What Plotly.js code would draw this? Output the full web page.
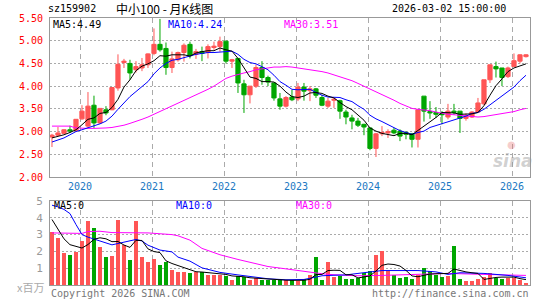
<!DOCTYPE html>
<html><head><meta charset="utf-8">
<script src="https://cdn.plot.ly/plotly-3.0.1.min.js"></script>
<style>html,body{margin:0;padding:0;background:#fff}#chart{width:545px;height:300px}</style>
</head><body><div id="chart"></div>
<script>
const months = ["2019-08","2019-09","2019-10","2019-11","2019-12",
"2020-01","2020-02","2020-03","2020-04","2020-05","2020-06","2020-07","2020-08","2020-09","2020-10","2020-11","2020-12",
"2021-01","2021-02","2021-03","2021-04","2021-05","2021-06","2021-07","2021-08","2021-09","2021-10","2021-11","2021-12",
"2022-01","2022-02","2022-03","2022-04","2022-05","2022-06","2022-07","2022-08","2022-09","2022-10","2022-11","2022-12",
"2023-01","2023-02","2023-03","2023-04","2023-05","2023-06","2023-07","2023-08","2023-09","2023-10","2023-11","2023-12",
"2024-01","2024-02","2024-03","2024-04","2024-05","2024-06","2024-07","2024-08","2024-09","2024-10","2024-11","2024-12",
"2025-01","2025-02","2025-03","2025-04","2025-05","2025-06","2025-07","2025-08","2025-09","2025-10","2025-11","2025-12",
"2026-01","2026-02","2026-03"];

const openP = [2.88,2.92,2.96,3.04,3.02,3.28,3.12,3.58,3.19,3.48,3.48,3.96,4.52,4.50,4.36,4.40,4.47,
4.72,4.92,4.83,4.41,4.58,4.74,4.92,4.70,4.76,4.74,4.85,4.87,
4.99,4.55,4.61,4.05,3.81,4.00,4.41,4.19,4.07,3.72,3.56,3.76,
3.72,3.98,3.90,3.94,3.75,3.56,3.69,3.68,3.43,3.30,3.23,3.16,
3.08,2.63,2.95,2.97,3.03,3.01,2.98,2.95,2.83,3.78,3.44,3.42,
3.40,3.32,3.45,3.45,3.29,3.32,3.43,3.61,4.14,4.43,4.40,4.21,
4.43,4.55,4.65];
const highP = [2.95,3.10,3.05,3.13,3.27,3.58,3.87,3.79,3.51,3.56,3.98,4.70,4.60,4.58,4.55,4.62,4.72,
5.27,5.48,4.96,4.76,4.76,4.94,4.98,4.82,4.87,4.92,4.98,5.09,
5.00,4.60,4.61,4.14,4.00,4.47,4.55,4.23,4.07,3.85,3.78,3.92,
4.07,4.07,4.00,3.96,3.81,3.74,3.74,3.70,3.48,3.37,3.30,3.17,
3.08,2.97,3.12,3.05,3.08,3.05,3.01,2.97,3.48,3.78,3.67,3.54,
3.45,3.61,3.61,3.45,3.40,3.45,3.74,4.14,4.47,4.54,4.40,4.43,
4.72,4.70,4.70];
const lowP = [2.66,2.90,2.95,2.97,3.00,3.26,3.08,3.08,3.17,3.36,3.47,3.90,4.40,4.14,4.30,4.33,4.40,
4.68,4.76,4.25,4.29,4.54,4.54,4.61,4.60,4.55,4.61,4.80,4.76,
4.50,4.40,3.85,3.41,3.62,3.96,4.03,4.00,3.68,3.48,3.53,3.67,
3.67,3.68,3.67,3.74,3.56,3.52,3.52,3.28,3.16,3.05,3.10,2.92,
2.59,2.44,2.90,2.86,2.94,2.79,2.83,2.65,2.65,3.22,3.28,3.30,
3.16,3.27,3.37,2.97,3.24,3.30,3.41,3.58,4.07,4.19,4.00,4.18,
4.43,4.50,4.63];
const closeP = [2.92,2.97,3.04,3.01,3.27,3.45,3.56,3.19,3.51,3.41,3.97,4.48,4.55,4.29,4.43,4.47,4.71,
4.92,4.80,4.41,4.60,4.74,4.90,4.67,4.76,4.72,4.87,4.88,4.98,
4.55,4.58,4.07,3.81,4.00,4.41,4.19,4.09,3.74,3.56,3.75,3.70,
3.98,3.89,3.94,3.80,3.58,3.67,3.71,3.45,3.32,3.23,3.14,3.10,
2.63,2.95,2.98,3.00,2.97,2.90,2.94,2.83,3.48,3.45,3.41,3.38,
3.37,3.45,3.42,3.29,3.35,3.43,3.63,4.14,4.47,4.38,4.19,4.40,
4.56,4.69,4.69];

const ma5 = [2.86,2.89,2.93,2.98,3.04,3.15,3.27,3.30,3.40,3.42,3.53,3.71,3.98,4.14,4.34,4.44,4.49,
4.56,4.67,4.66,4.69,4.69,4.69,4.66,4.73,4.76,4.78,4.78,4.84,
4.80,4.77,4.61,4.40,4.20,4.17,4.10,4.10,4.09,4.00,3.87,3.77,
3.75,3.78,3.85,3.86,3.84,3.78,3.74,3.64,3.55,3.48,3.37,3.25,
3.08,3.01,2.96,2.93,2.91,2.96,2.96,2.93,3.02,3.12,3.22,3.31,
3.42,3.41,3.41,3.38,3.38,3.39,3.42,3.57,3.80,4.01,4.16,4.32,
4.40,4.44,4.49];
const ma10 = [2.77,2.81,2.86,2.93,3.00,3.04,3.08,3.12,3.17,3.23,3.34,3.49,3.64,3.77,3.88,3.99,4.10,
4.27,4.40,4.50,4.57,4.59,4.63,4.67,4.70,4.72,4.74,4.74,4.75,
4.77,4.77,4.70,4.59,4.52,4.49,4.43,4.36,4.24,4.10,4.02,3.93,
3.92,3.93,3.93,3.86,3.80,3.76,3.76,3.75,3.70,3.66,3.57,3.49,
3.36,3.28,3.22,3.15,3.08,3.02,2.98,2.94,2.98,3.01,3.09,3.13,
3.17,3.22,3.26,3.30,3.34,3.40,3.42,3.49,3.59,3.69,3.78,3.87,
3.98,4.12,4.24];
const ma30 = [3.12,3.12,3.12,3.12,3.08,3.07,3.07,3.07,3.07,3.08,3.09,3.11,3.14,3.18,3.22,3.27,3.32,
3.38,3.44,3.50,3.56,3.62,3.68,3.74,3.80,3.86,3.93,4.00,4.08,
4.17,4.22,4.26,4.29,4.32,4.36,4.38,4.40,4.42,4.42,4.43,4.42,
4.40,4.38,4.37,4.35,4.32,4.29,4.25,4.20,4.16,4.12,4.06,4.00,
3.94,3.88,3.82,3.76,3.69,3.62,3.57,3.51,3.49,3.48,3.46,3.43,
3.40,3.38,3.37,3.36,3.34,3.33,3.32,3.33,3.35,3.37,3.39,3.41,
3.44,3.48,3.51];

// volume, millions
const volume = [3.13,2.77,1.88,1.80,1.98,2.59,3.82,3.41,2.24,1.68,1.74,3.88,2.38,1.50,3.82,1.68,1.39,
1.56,1.21,1.35,0.88,0.80,0.78,0.73,0.78,0.76,0.61,0.61,0.61,
0.55,0.31,0.51,0.47,0.31,0.41,0.31,0.27,0.27,0.31,0.27,0.27,
0.22,0.35,0.61,1.65,0.31,1.37,0.45,0.55,0.35,0.33,0.43,0.73,
0.86,1.80,2.04,0.82,0.57,0.43,0.49,0.37,0.57,1.02,0.82,0.57,
0.49,0.53,2.33,0.33,0.22,0.22,0.37,0.49,0.73,0.43,0.33,0.43,
0.43,0.29,0.14];
const volMa5 = [3.90,3.30,2.75,2.40,2.31,2.20,2.41,2.72,2.81,2.75,2.58,2.59,2.38,2.24,2.66,2.65,2.15,
1.99,1.93,1.44,1.28,1.16,1.00,0.91,0.79,0.77,0.73,0.70,0.67,
0.63,0.54,0.52,0.49,0.43,0.40,0.40,0.35,0.31,0.31,0.29,0.28,
0.27,0.28,0.34,0.62,0.63,0.86,0.88,0.87,0.61,0.61,0.42,0.48,
0.54,0.83,1.17,1.25,1.22,1.13,0.87,0.54,0.49,0.58,0.65,0.67,
0.69,0.69,0.95,0.85,0.78,0.73,0.69,0.33,0.41,0.45,0.47,0.48,
0.47,0.38,0.32];
const volMa10Months = ["2019-08","2019-09","2019-10","2019-11","2019-12","2020-01","2020-02","2020-04","2020-06","2020-08","2020-10","2020-11","2020-12","2021-02","2021-04","2021-05","2021-07","2021-09","2021-12","2022-03","2022-06","2022-08","2022-11","2023-02","2023-04","2023-05","2023-07","2023-09","2023-11","2024-03","2024-09","2024-12","2025-02","2025-04","2025-08","2025-12","2026-03"];
const volMa10 = [4.75,4.65,4.50,4.25,3.60,3.00,2.85,2.63,2.39,2.55,2.71,2.62,2.37,2.08,1.97,1.66,1.42,1.02,0.75,0.60,0.47,0.37,0.31,0.33,0.47,0.55,0.58,0.60,0.69,0.86,0.86,0.78,0.63,0.73,0.69,0.57,0.43];
const volMa30Months = ["2019-08","2019-11","2019-12","2020-01","2020-02","2020-04","2020-06","2020-09","2020-11","2020-12","2021-02","2021-04","2021-05","2021-07","2021-09","2021-12","2022-03","2022-06","2022-08","2022-11","2023-02","2023-05","2023-07","2023-11","2024-03","2024-09","2025-02","2025-08","2025-12","2026-03"];
const volMa30 = [3.10,3.10,3.07,3.07,3.18,3.20,3.12,3.10,3.12,3.10,3.05,3.00,2.93,2.67,2.18,1.80,1.52,1.25,1.10,0.96,0.80,0.67,0.61,0.55,0.57,0.63,0.69,0.63,0.57,0.57];

const priceTicks = [2.0,2.5,3.0,3.5,4.0,4.5,5.0,5.5];
const volTicks = [1,2,3,4,5];

const RED = "#ff5555", GREEN = "#00a600", BLUE = "#0000ff", MAG = "#ff00ff";
const MONO = "DejaVu Sans Mono";
const idx = months.map((m, i) => i);
const pos = m => months.indexOf(m);
const yearStarts = months.map((m, i) => [m, i]).filter(p => p[0].endsWith("-01"));
const yearTickVals = yearStarts.map(p => p[1] - 0.33);
const yearTickText = yearStarts.map(p => p[0].slice(0, 4));
const volColors = closeP.map((c, i) => c >= openP[i] ? RED : GREEN);

const line = (x, y, color, xa, ya) => ({type: "scatter", mode: "lines", x: x, y: y,
  line: {color: color, width: 1}, xaxis: xa, yaxis: ya, hoverinfo: "skip"});

const traces = [
  {type: "candlestick", x: idx, open: openP, high: highP, low: lowP, close: closeP,
   increasing: {line: {color: RED, width: 1}, fillcolor: RED},
   decreasing: {line: {color: GREEN, width: 1}, fillcolor: GREEN},
   whiskerwidth: 0, xaxis: "x", yaxis: "y", hoverinfo: "skip"},
  line(idx, ma30, MAG, "x", "y"),
  line(idx, ma10, BLUE, "x", "y"),
  line(idx, ma5, "#000000", "x", "y"),
  {type: "bar", x: idx, y: volume, marker: {color: volColors, line: {width: 0}}, width: 0.8,
   xaxis: "x2", yaxis: "y2", hoverinfo: "skip"},
  line(volMa30Months.map(pos), volMa30, MAG, "x2", "y2"),
  line(volMa10Months.map(pos), volMa10, BLUE, "x2", "y2"),
  line(idx, volMa5, "#000000", "x2", "y2")
];

const W = 545, H = 300, ML = 50, MR = 15, MT = 18, MB = 15;
const PW = W - ML - MR, PH = H - MT - MB;
const px = v => (v - ML) / PW;
const py = v => (H - MB - v) / PH;

const gridC = "#aaaaaa", frameC = "#999999";
const xBase = {range: [-0.33, months.length - 0.33], tickvals: yearTickVals, ticktext: yearTickText,
  showgrid: true, gridcolor: gridC, gridwidth: 1, griddash: "5px,4px", zeroline: false,
  showline: true, linecolor: frameC, linewidth: 1, mirror: true, ticks: "", fixedrange: true};
const yBase = {showgrid: true, gridcolor: gridC, gridwidth: 1, griddash: "2px,2px", zeroline: false,
  showline: true, linecolor: frameC, linewidth: 1, mirror: true, ticks: "", fixedrange: true,
  ticklabelstandoff: 4};

const ann = (text, x, y, xanchor, font) => ({text: text, x: x, y: y, xref: "paper", yref: "paper",
  xanchor: xanchor, yanchor: "middle", showarrow: false, font: font, borderpad: 0});
const f = (size, color, family) => ({family: family || MONO, size: size, color: color});

const layout = {
  width: W, height: H, margin: {l: ML, r: MR, t: MT, b: MB, pad: 0},
  paper_bgcolor: "#ffffff", plot_bgcolor: "#ffffff", showlegend: false,
  boxgap: 0.3, boxgroupgap: 0, bargap: 0,
  xaxis: Object.assign({}, xBase, {domain: [0, 1], anchor: "y", rangeslider: {visible: false},
    tickfont: f(10, "#1a78c2")}),
  yaxis: Object.assign({}, yBase, {domain: [py(177), 1], anchor: "x", range: [2.0, 5.5],
    tickvals: priceTicks, tickformat: ".2f", tickfont: f(10, "#ff0000")}),
  xaxis2: Object.assign({}, xBase, {domain: [0, 1], anchor: "y2", showticklabels: false}),
  yaxis2: Object.assign({}, yBase, {domain: [0, py(201)], anchor: "x2", range: [0, 5],
    tickvals: volTicks, tickfont: f(11, "#999999")}),
  annotations: [
    ann("sz159902", px(47), py(9), "left", f(10, "#000000")),
    ann("中小100 - 月K线图", px(115), py(9), "left", f(12, "#000000", "Noto Sans CJK SC")),
    ann("2026-03-02 15:00:00", px(507), py(9), "right", f(10, "#000000")),
    ann("MA5:" + ma5[ma5.length - 1].toFixed(2), px(52), py(24), "left", f(10, "#000000")),
    ann("MA10:" + ma10[ma10.length - 1].toFixed(2), px(167), py(24), "left", f(10, BLUE)),
    ann("MA30:" + ma30[ma30.length - 1].toFixed(2), px(283), py(24), "left", f(10, MAG)),
    ann("MA5:0", px(53), py(206), "left", f(10, "#000000")),
    ann("MA10:0", px(175), py(206), "left", f(10, BLUE)),
    ann("MA30:0", px(295), py(206), "left", f(10, MAG)),
    ann("Copyright 2026 SINA.COM", px(50), py(293), "left", f(10, "#777777")),
    ann("http://finance.sina.com.cn", px(530), py(293), "right", f(10, "#777777")),
    ann("x百万", px(45), py(287), "right", f(11, "#aaaaaa", "Noto Sans CJK SC")),
    ann("<b><i>sina</i></b>", px(513), py(161), "center", f(17, "rgba(150,150,150,0.45)", "DejaVu Sans")),
    ann("●", px(511), py(144), "center", f(10, "rgba(230,110,110,0.35)", "DejaVu Sans"))
  ]
};

Plotly.newPlot("chart", traces, layout, {staticPlot: true, displayModeBar: false});
</script>
</body></html>
